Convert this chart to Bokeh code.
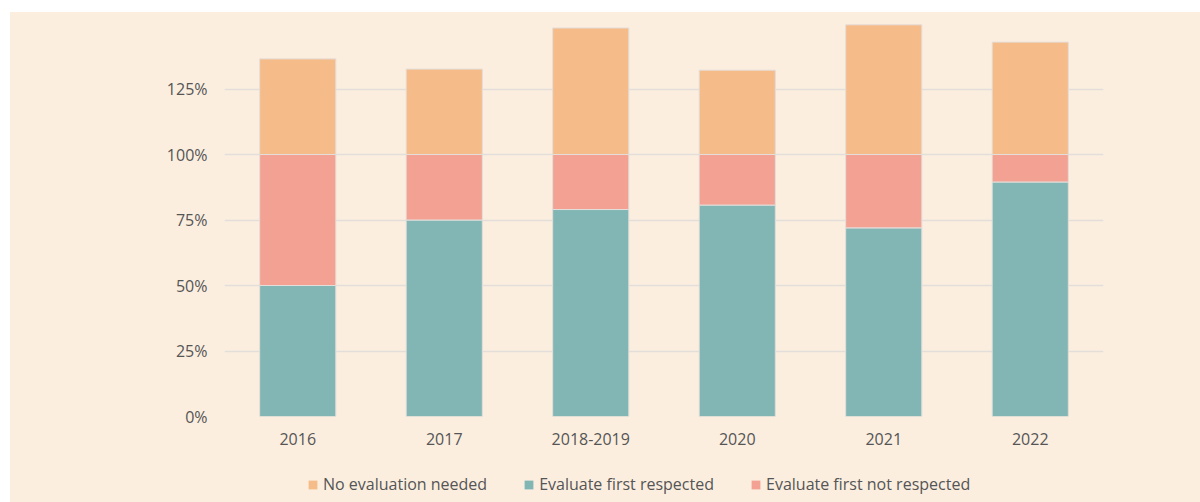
from bokeh.plotting import figure
from bokeh.layouts import column, row
from bokeh.models import (ColumnDataSource, FactorRange, FixedTicker, PrintfTickFormatter,
                          Legend, LegendItem, Range1d, Spacer)
from bokeh.embed import file_html
from bokeh.resources import INLINE

categories = ["2016", "2017", "2018-2019", "2020", "2021", "2022"]
respected = [50, 75, 79, 80.7, 72, 89.5]
not_respected = [50, 25, 21, 19.3, 28, 10.5]
no_eval = [36.5, 32.6, 48.3, 32.2, 49.5, 42.9]
y_ticks = [0, 25, 50, 75, 100, 125]

series = ["respected", "not_respected", "no_eval"]
colors = ["#82B6B5", "#F2A193", "#F5BC8A"]
labels = {"no_eval": "No evaluation needed",
          "respected": "Evaluate first respected",
          "not_respected": "Evaluate first not respected"}

source = ColumnDataSource(dict(cat=categories, respected=respected,
                               not_respected=not_respected, no_eval=no_eval))

BG = "#FBEEDF"
TXT = "#555555"
GRID = "#E4DEDA"
FONT = "Open Sans"

p = figure(x_range=FactorRange(*categories), y_range=Range1d(0, 150),
           width=1190, height=442, output_backend="svg", toolbar_location=None,
           min_border_left=214, min_border_right=97, min_border_top=11, min_border_bottom=38)
p.background_fill_color = BG
p.border_fill_color = BG
p.outline_line_color = None
p.styles = {"background-color": BG}

rs = p.vbar_stack(series, x="cat", width=0.52, source=source, color=colors,
                  line_color=GRID, line_width=1)

p.xgrid.grid_line_color = None
p.ygrid.grid_line_color = GRID
p.ygrid.grid_line_width = 1.5
p.ygrid.ticker = FixedTicker(ticks=y_ticks)

p.yaxis.ticker = FixedTicker(ticks=y_ticks)
p.yaxis.formatter = PrintfTickFormatter(format="%d%%")
for ax in (p.xaxis, p.yaxis):
    ax.axis_line_color = None
    ax.major_tick_line_color = None
    ax.minor_tick_line_color = None
    ax.major_tick_out = 0
    ax.major_tick_in = 0
    ax.major_label_text_color = TXT
    ax.major_label_text_font = FONT
    ax.major_label_text_font_size = "16px"
p.yaxis.major_label_standoff = 17
p.xaxis.major_label_standoff = 16

# legend strip below the chart
lg = figure(x_range=Range1d(0, 1), y_range=Range1d(0, 1), width=1190, height=48,
            output_backend="svg", toolbar_location=None,
            min_border_left=214, min_border_right=97, min_border_top=0, min_border_bottom=0)
lg.axis.visible = False
lg.grid.visible = False
lg.outline_line_color = None
lg.background_fill_color = BG
lg.border_fill_color = BG
lg.styles = {"background-color": BG}

# swatch renderers sit outside the visible range; only their legend glyphs show
swatch = ColumnDataSource(dict(x=[-5], top=[-5]))
order = ["no_eval", "respected", "not_respected"]
items = []
for s in order:
    r = lg.vbar(x="x", top="top", width=0.1, source=swatch,
                fill_color=colors[series.index(s)], line_color=None)
    items.append(LegendItem(label=labels[s], renderers=[r]))

legend = Legend(items=items, orientation="horizontal", location=(83, 7),
                glyph_width=11, glyph_height=11, label_standoff=5, spacing=36,
                padding=0, margin=0, border_line_color=None, background_fill_alpha=0,
                label_text_font=FONT, label_text_font_size="16px", label_text_color=TXT)
lg.add_layout(legend, "center")

layout = column(Spacer(height=12), row(Spacer(width=10), column(p, lg, spacing=0), spacing=0),
                spacing=0)
open("out.html", "w").write(file_html(layout, INLINE))
